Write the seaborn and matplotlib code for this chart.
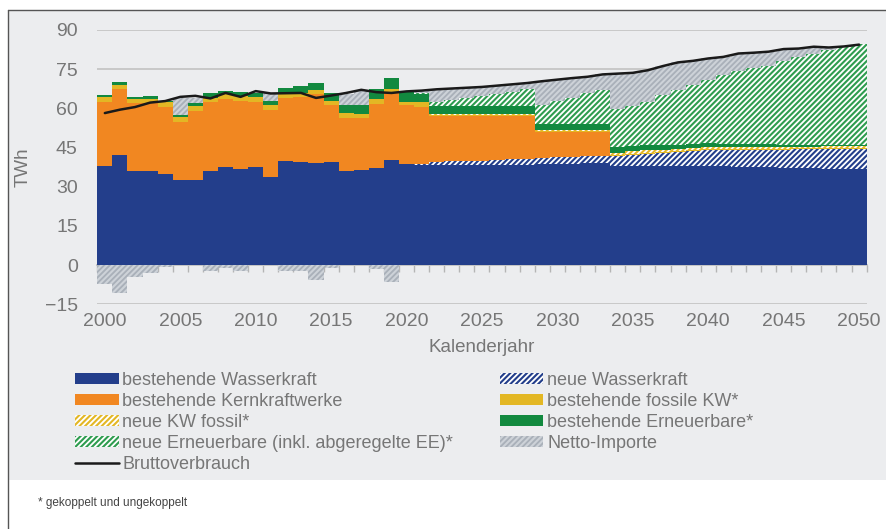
import numpy as np
import matplotlib
matplotlib.use("Agg")
import matplotlib.pyplot as plt
from matplotlib.patches import Patch, Rectangle
from matplotlib.lines import Line2D
import seaborn as sns

# Jahre 2000-2050
years = list(range(2000, 2051))

# Werte in TWh
wasser_best = [37.8, 42.1, 36.2, 36.1, 34.8, 32.5, 32.5, 36.1, 37.5, 36.9,
               37.4, 33.7, 39.7, 39.4, 39.0, 39.3, 36.1, 36.4, 37.1, 40.3,
               38.8, 38.5, 38.3, 38.3, 38.2, 38.2, 38.2, 38.3, 38.4, 38.6,
               38.7, 38.8, 39.0, 39.0, 38.0, 38.0, 38.0, 38.0, 37.9, 37.9,
               37.9, 37.8, 37.7, 37.6, 37.4, 37.2, 37.1, 37.0, 36.9, 36.8, 36.7]
wasser_neu = [0, 0, 0, 0, 0, 0, 0, 0, 0, 0,
              0, 0, 0, 0, 0, 0, 0, 0, 0, 0,
              0, 0.3, 1.2, 1.4, 1.6, 1.8, 2.0, 2.2, 2.4, 2.5,
              2.6, 2.7, 2.8, 2.9, 3.8, 4.2, 4.6, 5.0, 5.3, 5.7,
              6.0, 6.2, 6.4, 6.6, 6.8, 7.0, 7.2, 7.4, 7.6, 7.8, 7.9]
kern = [24.8, 25.4, 25.9, 26.1, 25.6, 22.3, 26.3, 26.5, 26.1, 26.1,
        25.2, 25.7, 24.3, 25.0, 26.5, 22.0, 20.3, 19.8, 24.7, 25.5,
        22.3, 21.9, 17.6, 17.4, 17.3, 17.1, 16.9, 16.6, 16.3, 9.8,
        9.6, 9.4, 9.1, 9.0, 0, 0, 0, 0, 0, 0,
        0, 0, 0, 0, 0, 0, 0, 0, 0, 0, 0]
fossil_best = [1.7, 1.4, 1.6, 1.5, 1.9, 1.9, 2.0, 1.5, 1.8, 1.8,
               1.8, 1.7, 1.7, 1.5, 1.6, 1.7, 1.8, 1.8, 1.7, 1.8,
               1.4, 1.6, 0.5, 0.5, 0.5, 0.5, 0.5, 0.5, 0.5, 0.3,
               0.3, 0.3, 0.3, 0.3, 0.4, 0.4, 0.4, 0.4, 0.4, 0.4,
               0.4, 0.4, 0.4, 0.4, 0.4, 0.4, 0.4, 0.4, 0.4, 0.4, 0.4]
fossil_neu = [0, 0, 0, 0, 0, 0, 0, 0, 0, 0,
              0, 0, 0, 0, 0, 0, 0, 0, 0, 0,
              0, 0, 0.4, 0.4, 0.4, 0.4, 0.4, 0.4, 0.4, 0.4,
              0.4, 0.4, 0.4, 0.4, 0.9, 0.9, 0.9, 0.8, 0.8, 0.8,
              0.8, 0.7, 0.7, 0.7, 0.7, 0.6, 0.6, 0.6, 0.6, 0.6, 0.6]
ee_best = [0.7, 1.1, 0.8, 1.1, 0.7, 0.9, 1.2, 1.7, 1.4, 1.5,
           1.3, 1.7, 2.1, 2.5, 2.5, 2.8, 2.9, 3.1, 3.8, 4.1,
           3.7, 3.2, 2.8, 2.8, 2.8, 2.8, 2.8, 2.8, 2.8, 2.3,
           2.3, 2.3, 2.3, 2.3, 2.1, 2.0, 1.9, 1.8, 1.7, 1.6,
           1.5, 1.4, 1.3, 1.1, 1.0, 0.8, 0.6, 0.5, 0.4, 0.3, 0.2]
ee_neu = [0, 0, 0, 0, 0, 0, 0, 0, 0, 0,
          0, 0, 0, 0, 0, 0, 0, 0, 0, 0,
          0, 0.5, 1.7, 2.3, 3.3, 3.8, 4.6, 5.5, 6.5, 7.3,
          8.8, 10.2, 11.8, 13.1, 14.7, 15.3, 16.7, 19.0, 21.1, 22.5,
          24.4, 26.2, 27.9, 28.9, 29.9, 32.2, 33.8, 35.1, 36.4, 37.4, 38.8]
importe = [-7.3, -10.5, -4.7, -3.2, -0.9, 6.5, 1.8, -2.2, -1.3, -2.4,
           0.0, 3.0, -2.3, -2.4, -5.6, -1.3, 4.3, 5.5, -1.5, -6.4,
           0.0, 0.6, 4.8, 4.5, 3.8, 3.6, 3.3, 2.9, 2.4, 9.2,
           8.3, 7.5, 6.4, 6.0, 13.4, 12.8, 12.1, 11.2, 10.4, 9.3,
           8.1, 7.0, 6.6, 6.0, 5.5, 4.5, 3.2, 2.6, 1.0, 0.4, 0.0]
brutto = [58.2, 59.5, 60.5, 62.2, 62.8, 64.4, 64.8, 63.8, 65.9, 64.4,
          66.6, 65.7, 65.8, 65.9, 64.0, 64.9, 65.9, 67.1, 66.2, 65.9,
          66.5, 66.8, 67.3, 67.6, 67.9, 68.2, 68.7, 69.2, 69.7, 70.4,
          71.0, 71.6, 72.1, 73.0, 73.3, 73.6, 74.6, 76.2, 77.6, 78.2,
          79.1, 79.7, 81.0, 81.3, 81.7, 82.7, 82.9, 83.6, 83.3, 83.7, 84.4]

BLAU = "#233E8B"
ORANGE = "#F18721"
GELB = "#E3B724"
GRUEN = "#12893F"
GRUEN_H = "#2E9C4F"
GRAU = "#A9B0B9"
TEXT = "#767676"

sns.set_theme(style="white")
plt.rcParams["font.family"] = ["Liberation Sans", "DejaVu Sans"]
plt.rcParams["hatch.linewidth"] = 1.5

fig = plt.figure(figsize=(8.87, 5.29), dpi=100)
fig.patch.set_facecolor("white")

# grauer Kasten mit Rahmen
fig.patches.append(Rectangle((0.009, 0.0926), 1.0, 0.8885, transform=fig.transFigure,
                             facecolor="#ECEDEF", edgecolor="none", zorder=-5))
fig.lines.append(Line2D([0.009, 0.009], [0, 0.981], transform=fig.transFigure, color="#555555", lw=1))
fig.lines.append(Line2D([0.009, 1.0], [0.981, 0.981], transform=fig.transFigure, color="#555555", lw=1))

ax = fig.add_axes([0.1097, 0.4248, 0.8673, 0.5185])
ax.set_facecolor("none")

HATCH = "//////"
stapel = [
    (wasser_best, "bestehende Wasserkraft", dict(color=BLAU)),
    (wasser_neu, "neue Wasserkraft", dict(facecolor="white", edgecolor=BLAU, hatch=HATCH)),
    (kern, "bestehende Kernkraftwerke", dict(color=ORANGE)),
    (fossil_best, "bestehende fossile KW*", dict(color=GELB)),
    (fossil_neu, "neue KW fossil*", dict(facecolor="white", edgecolor=GELB, hatch=HATCH)),
    (ee_best, "bestehende Erneuerbare*", dict(color=GRUEN)),
    (ee_neu, "neue Erneuerbare (inkl. abgeregelte EE)*", dict(facecolor="white", edgecolor=GRUEN_H, hatch=HATCH)),
]

unten = np.zeros(len(years))
handles = {}
for werte, name, stil in stapel:
    ax.bar(years, werte, width=1.0, bottom=unten, linewidth=0, **stil)
    handles[name] = Patch(linewidth=0, **stil)
    unten += np.array(werte)

imp = np.array(importe)
import_stil = dict(facecolor=GRAU, edgecolor="#CDD2D8", hatch=HATCH)
ax.bar(years, np.clip(imp, 0, None), width=1.0, bottom=unten, linewidth=0, **import_stil)
ax.bar(years, np.clip(imp, None, 0), width=1.0, bottom=0, linewidth=0, **import_stil)
handles["Netto-Importe"] = Patch(linewidth=0, **import_stil)

sns.lineplot(x=years, y=brutto, color="#1A1A1A", linewidth=1.8, ax=ax, zorder=5)
handles["Bruttoverbrauch"] = Line2D([], [], color="#1A1A1A", lw=1.8)

ax.set_xlim(1999.5, 2050.5)
ax.set_ylim(-15, 90)
ax.set_yticks(range(-15, 91, 15))
ax.set_xticks(years[::5])
ax.grid(axis="y", color="#C6C6C6", lw=1.3)
ax.grid(axis="x", visible=False)
ax.set_axisbelow(True)
for s in ax.spines.values():
    s.set_visible(False)
ax.tick_params(axis="y", length=0, pad=14, labelsize=14, labelcolor=TEXT)
ax.tick_params(axis="x", length=0, pad=6, labelsize=14, labelcolor=TEXT)
ax.set_ylabel("TWh", fontsize=13.5, color=TEXT)
ax.yaxis.set_label_coords(-0.085, 0.5)
ax.set_xlabel("Kalenderjahr", fontsize=13.5, color=TEXT, labelpad=7)

# Nulllinie mit Teilstrichen zwischen den Jahren
null = ax.secondary_xaxis(15 / 105)
null.set_xticks(np.arange(1999.5, 2051, 1))
null.tick_params(length=5, width=1, color="#B5B5B5", labelbottom=False)
null.spines["bottom"].set_color("#B5B5B5")
null.spines["bottom"].set_linewidth(1.2)

reihenfolge = ["bestehende Wasserkraft", "bestehende Kernkraftwerke", "neue KW fossil*",
               "neue Erneuerbare (inkl. abgeregelte EE)*", "Bruttoverbrauch",
               "neue Wasserkraft", "bestehende fossile KW*", "bestehende Erneuerbare*",
               "Netto-Importe"]
leg = fig.legend([handles[n] for n in reihenfolge], reihenfolge, ncol=2,
                 loc="upper left", bbox_to_anchor=(0.085, 0.297), frameon=False,
                 fontsize=13, handlelength=2.4, handleheight=0.55, handletextpad=0.2,
                 labelspacing=0.22, columnspacing=2.6, borderpad=0, borderaxespad=0)
for t in leg.get_texts():
    t.set_color(TEXT)

fig.text(0.043, 0.049, "* gekoppelt und ungekoppelt", fontsize=8.5, color="#444444",
         va="center")

fig.savefig("out.png", dpi=100)
